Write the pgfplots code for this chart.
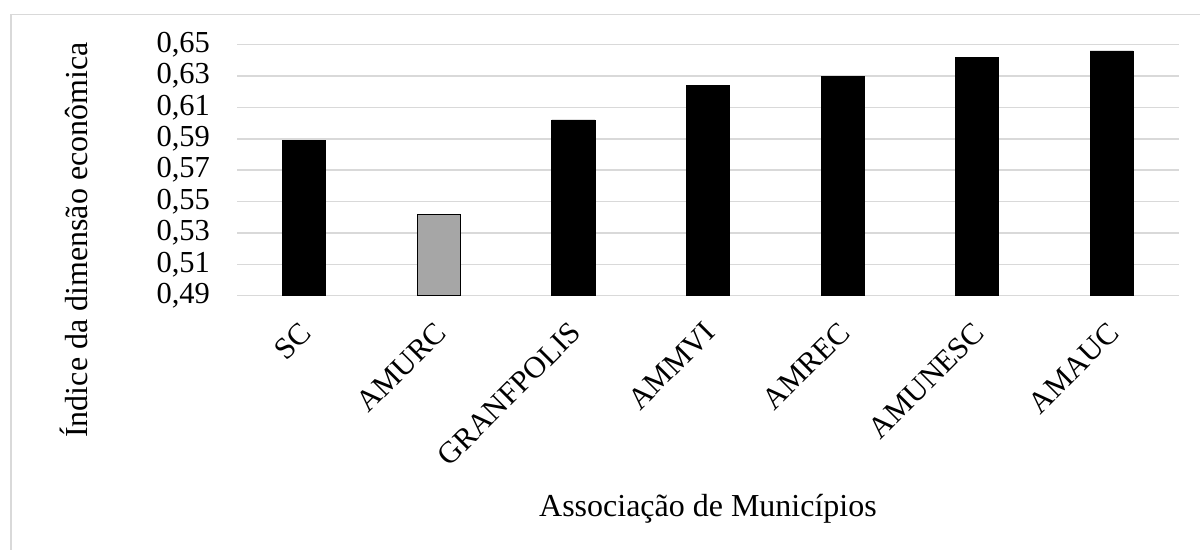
\documentclass[border=0pt]{standalone}
\usepackage{fontspec}
\setmainfont{Liberation Serif}
\usepackage{pgfplots}
\pgfplotsset{compat=1.18}
\definecolor{gridgray}{HTML}{D9D9D9}
\definecolor{bargray}{HTML}{A6A6A6}
\begin{document}
\begin{tikzpicture}[x=1pt,y=1pt]
\useasboundingbox (0,0) rectangle (600,275);
% chart frame (cropped on the right and bottom)
\draw[gridgray, line width=0.75pt] (5.5,-5) -- (5.5,267.75) -- (610,267.75);
\begin{axis}[
  at={(118.5pt,127.15pt)}, anchor=south west,
  width=471pt, height=125.5pt, scale only axis,
  ymin=0.49, ymax=0.65,
  ytick={0.49,0.51,0.53,0.55,0.57,0.59,0.61,0.63,0.65},
  xmin=-0.5, xmax=6.5,
  xtick={0,1,2,3,4,5,6},
  xticklabels={SC,AMURC,GRANFPOLIS,AMMVI,AMREC,AMUNESC,AMAUC},
  ybar, bar width=0.32,
  major tick length=0,
  axis line style={draw=none},
  ymajorgrids,
  grid style={gridgray, line width=0.75pt},
  tick label style={font=\fontsize{15.25}{18}\selectfont},
  yticklabel style={xshift=-10pt},
  xticklabel style={xshift=3.5pt, yshift=-13.5pt, rotate=45, anchor=east},
  /pgf/number format/use comma,
  /pgf/number format/fixed,
  /pgf/number format/fixed zerofill,
  /pgf/number format/precision=2,
  /pgf/number format/assume math mode=true,
  label style={font=\fontsize{16}{19}\selectfont},
  xlabel={Associação de Municípios},
  xlabel style={at={(axis description cs:0.5,-0.8817)}, anchor=base},
  ylabel={Índice da dimensão econômica},
  ylabel style={at={(axis description cs:-0.1592,0.222)}, anchor=base, rotate=0},
]
\addplot[bar shift=0pt, fill=black, draw=black] coordinates {
  (0,0.589) (2,0.602) (3,0.624) (4,0.630) (5,0.642) (6,0.646)
};
\addplot[bar shift=0pt, fill=bargray, draw=black, line width=0.6pt] coordinates {
  (1,0.542)
};
\end{axis}
\end{tikzpicture}
\end{document}
